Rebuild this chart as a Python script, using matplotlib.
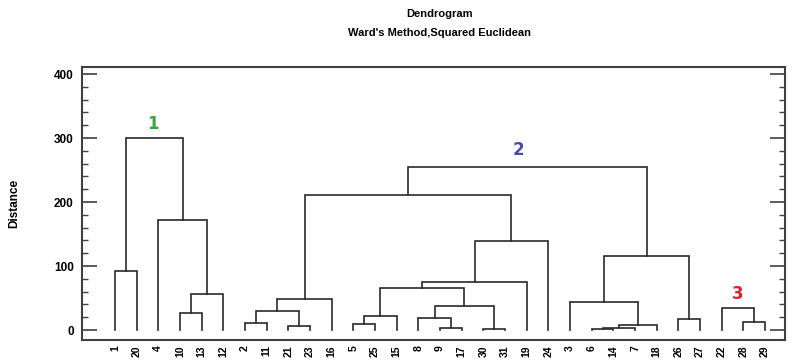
import matplotlib
matplotlib.use('Agg')
import matplotlib.pyplot as plt
from matplotlib.ticker import MultipleLocator

# leaf order along the x axis
leaves = ['1', '20', '4', '10', '13', '12', '2', '11', '21', '23', '16', '5', '25', '15',
          '8', '9', '17', '30', '31', '19', '24', '3', '6', '14', '7', '18', '26', '27',
          '22', '28', '29']

# merges: name, left child, right child, distance
merge_names = ['m1', 'm2', 'm3', 'm4', 'm5',
               'm6', 'm7', 'm8', 'm9', 'm10', 'm11', 'm12', 'm13', 'm14', 'm15', 'm16',
               'm17', 'm18', 'm19', 'm20', 'm21', 'm22', 'm23', 'm24', 'm25', 'm26',
               'm27', 'm28']
merge_left = ['1', '10', 'm2', '4', 'm1',
              '2', '21', 'm6', 'm8', '5', 'm10', '9', '8', '30', 'm13', 'm11',
              'm16', 'm17', 'm9', '6', 'm20', 'm21', '3', '26', 'm23', 'm19',
              '28', '22']
merge_right = ['20', '13', '12', 'm3', 'm4',
               '11', '23', 'm7', '16', '25', '15', '17', 'm12', '31', 'm14', 'm15',
               '19', '24', 'm18', '14', '7', '18', 'm22', '27', 'm24', 'm25',
               '29', 'm27']
merge_height = [93, 26, 57, 172, 300,
                11, 7, 30, 49, 9, 22, 3, 19, 1.5, 38, 65,
                75, 139, 211, 1.5, 3, 7.5, 43, 17, 116, 255,
                13, 35]

cluster_names = ['1', '2', '3']
cluster_colors = ['#3aa83c', '#4a4aa8', '#e0202c']
cluster_pos = [(1.75, 322), (18.6, 281), (28.75, 56)]

plt.rcParams['font.family'] = ['Liberation Sans Narrow', 'Liberation Sans', 'DejaVu Sans']

fig = plt.figure(figsize=(7.96, 3.64), dpi=100)
ax = fig.add_axes([82 / 796, 24 / 364, 703 / 796, 273 / 364])

line_col = '#2a2a2a'
xpos = {name: i for i, name in enumerate(leaves)}
ypos = {name: 0 for name in leaves}
for name, a, b, h in zip(merge_names, merge_left, merge_right, merge_height):
    xa, xb = xpos[a], xpos[b]
    ax.plot([xa, xa, xb, xb], [ypos[a], h, h, ypos[b]], color=line_col, lw=1.2,
            solid_joinstyle='miter')
    xpos[name] = (xa + xb) / 2
    ypos[name] = h

for txt, col, (x, y) in zip(cluster_names, cluster_colors, cluster_pos):
    ax.text(x, y, txt, color=col, fontsize=12, fontweight='bold', ha='center', va='center',
            family='DejaVu Sans')

ax.set_xlim(-1.52, 30.92)
ax.set_ylim(-15.6, 411)
ax.set_xticks(range(len(leaves)))
ax.set_xticklabels(leaves, rotation=90, fontsize=7.5, fontweight='bold')
ax.tick_params(axis='x', length=0, pad=4)

ax.yaxis.set_major_locator(MultipleLocator(100))
ax.yaxis.set_minor_locator(MultipleLocator(20))
ax.tick_params(axis='y', which='major', direction='in', length=11, width=1.2,
               right=True, labelsize=8.5, pad=6, color='#404040')
ax.tick_params(axis='y', which='minor', direction='in', length=4.5, width=1.0,
               right=True, color='#404040')
for lab in ax.get_yticklabels():
    lab.set_fontweight('bold')

for sp in ax.spines.values():
    sp.set_color('#404040')
    sp.set_linewidth(1.5)

ax.set_ylabel('Distance', fontsize=8.5, fontweight='bold', labelpad=24)

fig.text(440 / 796, 1 - 14 / 364, 'Dendrogram', ha='center', va='center',
         fontsize=8, fontweight='bold')
fig.text(440 / 796, 1 - 33 / 364, "Ward's Method,Squared Euclidean", ha='center', va='center',
         fontsize=8, fontweight='bold')

fig.savefig('out.png', dpi=100)
